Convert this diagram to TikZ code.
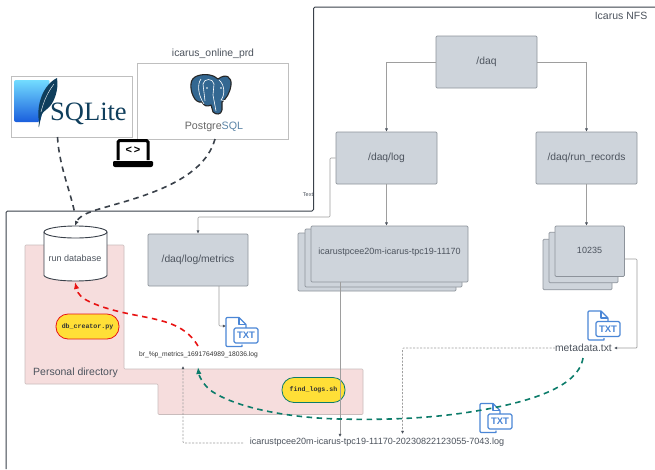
\documentclass[tikz,border=0pt]{standalone}
\usepackage{fontspec}
\setmainfont{Liberation Sans}
\newfontfamily\serifl{Liberation Serif}
\newfontfamily\monof{Liberation Mono}
\usetikzlibrary{arrows.meta,calc}
\definecolor{txtc}{HTML}{4C535D}
\definecolor{boxf}{HTML}{CED4DB}
\definecolor{boxd}{HTML}{8D939B}
\definecolor{pinkf}{HTML}{F6DDDD}
\definecolor{pinkd}{HTML}{C9BCBC}
\definecolor{conn}{HTML}{9E9E9E}
\definecolor{frame}{HTML}{3A414A}
\definecolor{dashd}{HTML}{3A414A}
\definecolor{redc}{HTML}{E81313}
\definecolor{greenc}{HTML}{0C7C6A}
\definecolor{yel}{HTML}{FFDF37}
\definecolor{iconb}{HTML}{4A86D6}
\definecolor{sqblue}{HTML}{0F3E5C}
\definecolor{pgblue}{HTML}{336791}
\tikzset{
 x=1pt,y=-1pt,
 dirbox/.style={draw=boxd,fill=boxf,rounded corners=1.2pt,line width=.7pt,minimum width=#1,inner sep=0pt,text=txtc,font=\fontsize{10.3}{12}\selectfont},
 dirbox/.default=101pt,
 conline/.style={draw=conn,line width=.6pt,-{Latex[length=3.2pt,width=3.2pt,color=txtc]}},
 dashline/.style={draw=conn,line width=.6pt,dash pattern=on 2pt off 1.5pt,-{Latex[length=3.2pt,width=3.2pt,color=txtc]}},
 bigdash/.style={dashd,line width=1.6pt,dash pattern=on 5.5pt off 4.5pt},
 pill/.style={rounded corners=12pt,fill=yel,line width=.8pt,minimum width=63pt,minimum height=25pt,inner sep=0pt,font=\monof\bfseries\fontsize{6.6}{8}\selectfont,text=black!80},
 lab/.style={text=txtc,inner sep=0pt},
 logobox/.style={draw=black!25,fill=white,line width=.6pt,inner sep=0pt},
}
\newcommand{\txticon}[2]{%
 \begin{scope}[shift={(#1,#2)},iconb,line width=1.1pt,line join=round]
  \draw[fill=white] (16,27) -- (16,29) -- (1,29) -- (0,28) -- (0,1) -- (1,0) -- (13,0) -- (20,7) -- (20,11);
  \draw (13,0) -- (13,7) -- (20,7);
  \draw[fill=white,rounded corners=1.5pt] (8,10.5) rectangle (32,25.5);
  \node[inner sep=0pt,font=\bfseries\fontsize{9.5}{10}\selectfont,text=iconb] at (20,18) {TXT};
 \end{scope}}
\begin{document}
\begin{tikzpicture}
\useasboundingbox (0,0) rectangle (655,469);
\fill[white] (0,0) rectangle (655,469);

% frames
\draw[frame,line width=1pt,rounded corners=1.5pt] (655,7) -- (313.5,7) -- (313.5,211) -- (6,211) -- (6,469);
\node[lab,font=\fontsize{10.5}{12}\selectfont] (nfs) at (621,16) {Icarus NFS};

% personal directory area
\path[fill=pinkf,draw=pinkd,line width=.6pt,rounded corners=1pt] (25,245) -- (124,245) -- (124,369) -- (363,369) -- (363,414.5) -- (158,414.5) -- (158,384) -- (25,384) -- cycle;
\node[lab,font=\fontsize{10.5}{12}\selectfont,anchor=west] (pd) at (33,373) {Personal directory};

% directories
\node[dirbox,minimum height=52pt] (daq) at (486.5,62) {/daq};
\node[dirbox,minimum height=52pt] (log) at (386.5,158) {/daq/log};
\node[dirbox,minimum height=52pt] (rr) at (586.5,158) {/daq/run\_records};
\node[dirbox=100pt,minimum height=52pt] (metrics) at (198,260) {/daq/log/metrics};

% stacks
\node[dirbox=158pt,minimum height=58pt] (s3) at (377,262) {};
\node[dirbox=157pt,minimum height=58pt] (s2) at (383.5,258) {};
\node[dirbox=157pt,minimum height=56pt] (s1) at (389.5,254) {};
\node[lab,font=\fontsize{9}{11}\selectfont] (s1t) at (389.5,252.5) {icarustpcee20m-icarus-tpc19-11170};
\node[dirbox=69pt,minimum height=50.5pt] (r3) at (577.5,264.5) {};
\node[dirbox=69pt,minimum height=50.5pt] (r2) at (583.5,257.5) {};
\node[dirbox=69.5pt,minimum height=50.5pt] (r1) at (589.75,251.25) {};
\node[lab,font=\fontsize{9}{11}\selectfont] (r1t) at (589.5,250) {10235};

% logo boxes
\node[logobox,minimum width=121pt,minimum height=61pt] (sq) at (71.5,106.5) {};
\node[logobox,minimum width=151pt,minimum height=76pt] (pg) at (212.5,101) {};
\node[lab,font=\fontsize{10.4}{12}\selectfont] (pgt) at (213,53.5) {icarus\_online\_prd};

% SQLite logo
\shade[top color=blue!25!cyan!55!white,bottom color=blue!65!cyan!85!black!90,rounded corners=2pt] (14,80) -- (50,80) -- (40,122) -- (14,122) -- cycle;
\fill[sqblue] (39,122) .. controls (36,105) and (43,85) .. (57,78) .. controls (59,90) and (54,104) .. (47,109) .. controls (44,111) and (42,113) .. (41,117) -- (39,127) -- (38.5,127) -- cycle;
\draw[white,line width=.4pt] (41,112) .. controls (44,100) and (48,92) .. (54,84);
\node[inner sep=0pt,text=sqblue,font=\serifl\fontsize{26.5}{28}\selectfont,anchor=west] (sqt) at (50,113.5) {SQLite};

% PostgreSQL logo
\begin{scope}
 \fill[pgblue,draw=black!85,line width=1.1pt,line join=round]
   (197,76) .. controls (205,73) and (214,75) .. (218,79) .. controls (226,73) and (232,77) .. (231,85) .. controls (230,93) and (226,99) .. (222,102) -- (222,110) .. controls (221,115) and (216,115) .. (213,112) -- (211,105) .. controls (207,107) and (204,106) .. (202,102) .. controls (194,104) and (190,90) .. (191,84) .. controls (191,80) and (194,77) .. (197,76) -- cycle;
 \draw[white,line width=.6pt] (201,79) .. controls (197,84) and (198,95) .. (204,104);
 \draw[white,line width=.6pt] (205,101) -- (203,84) .. controls (204,78) and (213,78) .. (214,84) -- (213,95) -- (216,111);
 \draw[white,line width=.6pt] (219,80) .. controls (225,85) and (225,95) .. (221,100) -- (228,101);
 \fill[white] (207,88) circle (.9pt) (221,88) circle (.9pt);
\end{scope}
\node[inner sep=0pt,font=\fontsize{10.7}{12}\selectfont,text=black!60] (pgw) at (214,126.5) {Postgre\textcolor{pgblue!80}{SQL}};

% laptop
\fill[black,rounded corners=1pt] (113,161) -- (153,161) -- (153,164) .. controls (153,166) and (152,167) .. (150,167) -- (116,167) .. controls (114,167) and (113,166) .. (113,164) -- cycle;
\draw[black,line width=3pt,rounded corners=1.5pt] (118,160) -- (118,140.5) -- (148,140.5) -- (148,160);
\node[inner sep=0pt,font=\bfseries\fontsize{11}{12}\selectfont,text=black] (lapc) at (133,150) {<\,>};

% cylinder
\draw[frame,fill=white,line width=.9pt] (44,232) -- (44,275.5) .. controls (46,279) and (60,281) .. (75.5,281) .. controls (91,281) and (105,279) .. (107,275.5) -- (107,232);
\draw[frame,fill=white,line width=.9pt] (75.5,232) ellipse [x radius=31.5,y radius=6];
\node[lab,font=\fontsize{9}{11}\selectfont] (db) at (75,258) {run database};
\coordinate (dbtop) at (75,226);
\coordinate (dbbot) at (75,282);

% pills
\node[pill,draw=redc] (dbc) at (87.5,326.5) {db\_creator.py};
\node[pill,draw=greenc] (fl) at (313.5,390) {find\_logs.sh};

% text labels
\node[inner sep=0pt,font=\fontsize{6.7}{8}\selectfont,text=black!80] (br) at (198.5,355) {br\_\%p\_metrics\_1691764989\_18036.log};
\node[lab,font=\fontsize{10.3}{12}\selectfont] (mt) at (583.5,347.5) {metadata.txt};
\node[lab,font=\fontsize{9.05}{11}\selectfont] (ll) at (377,442) {icarustpcee20m-icarus-tpc19-11170-20230822123055-7043.log};
\node[lab,font=\fontsize{5.5}{6}\selectfont] (tx) at (308,195) {Text};

% icons
\txticon{226}{317.5}
\coordinate (ti1) at (226,326);
\txticon{588}{311}
\txticon{480}{403.5}

% thin connectors
\draw[conline] (daq.west) -| (log.north);
\draw[conline] (daq.east) -| (rr.north);
\coordinate (lm) at (330,217);
\draw[conline,rounded corners=1pt] (log.west) -| (lm) -| (metrics.north);
\draw[conline] (log.south) -- (s1.north -| log.south);
\draw[conline] (rr.south) -- (r1.north -| rr.south);
\coordinate (ms) at (219,286);
\draw[conline,rounded corners=1pt] (ms) |- (ti1);
\coordinate (ss) at (340,282);
\coordinate (se) at (340,437);
\draw[conline] (ss) -- (se);
\coordinate (rs) at (624.5,259);
\coordinate (re) at (614,348);
\draw[conline,rounded corners=1pt,line width=.7pt] (rs) -| (637,348) -- (re);
\coordinate (mw) at (555,348);
\coordinate (me) at (402.5,434);
\draw[dashline,rounded corners=1pt] (mw) -| (me);
\coordinate (lw) at (243,443);
\coordinate (be) at (183,366);
\draw[dashline,rounded corners=1pt] (lw) -| (be);

% big dashed curves
\draw[bigdash] (57.5,137) .. controls (59,165) and (70,190) .. (74.5,212);
\draw[bigdash,-{Latex[length=5pt,width=4pt]}] (215,139) .. controls (205,175) and (160,192) .. (113,205) .. controls (100,209) and (80,213) .. (dbtop);
\draw[bigdash,redc,-{Latex[length=7pt,width=5.5pt]}] (198,346) .. controls (178,312) and (135,322) .. (90,302) .. controls (82,298) and (78,295) .. (dbbot);
\draw[bigdash,greenc,-{Latex[length=7pt,width=5.5pt]}] (583,358) .. controls (578,390) and (520,404) .. (470,412) .. controls (425,419) and (380,420) .. (340,419) .. controls (290,418) and (235,408) .. (210,390) .. controls (203,384) and (199,376) .. (198,367);
\end{tikzpicture}
\end{document}
